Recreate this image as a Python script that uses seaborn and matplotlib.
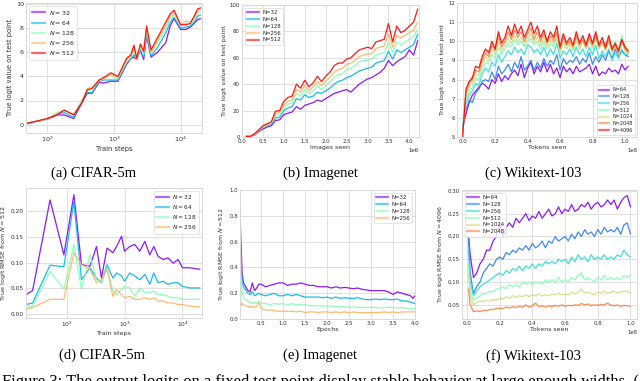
import numpy as np
import pandas as pd
import matplotlib
matplotlib.use("Agg")
import matplotlib.pyplot as plt
import seaborn as sns

# ---------------- data ----------------
# (a) CIFAR-5m logits
a_x = [50, 100, 140, 180, 250, 330, 400, 470, 600, 700, 900, 1150, 1550, 1800, 2000,
       2200, 2500, 2800, 3100, 3600, 4500, 6000, 7000, 8000, 10000, 12000, 14000, 16000, 18000, 20000]
a_labels = ["$N = 32$", "$N = 64$", "$N = 128$", "$N = 256$", "$N = 512$"]
a_n32 = [0.1, 0.45, 0.8, 0.8, 0.5, 1.8, 2.6, 2.6, 3.5, 3.45, 3.6, 3.6, 5.0, 5.5, 5.6, 5.4, 6.2, 5.4, 7.4, 5.6, 6.0, 6.8, 8.2, 8.8, 7.9, 7.9, 8.1, 8.4, 8.7, 8.8]
a_n64 = [0.1, 0.45, 0.9, 1.0, 0.6, 1.9, 2.7, 2.6, 3.6, 3.7, 3.7, 3.7, 5.1, 5.5, 5.8, 5.4, 6.3, 5.6, 7.5, 5.7, 6.4, 7.6, 8.5, 8.9, 8.0, 8.1, 8.2, 8.5, 9.0, 9.1]
a_n128 = [0.1, 0.45, 1.0, 1.2, 0.9, 2.0, 2.8, 2.9, 3.7, 3.8, 4.1, 3.8, 5.2, 5.6, 6.2, 5.4, 6.4, 5.8, 7.8, 5.9, 6.8, 7.9, 8.8, 9.1, 8.2, 8.4, 8.3, 8.7, 9.2, 9.4]
a_n256 = [0.1, 0.5, 0.9, 1.2, 0.8, 1.9, 3.0, 3.1, 3.6, 3.8, 4.2, 3.9, 5.4, 5.7, 6.4, 5.5, 6.6, 6.0, 8.0, 6.0, 7.0, 8.2, 9.0, 9.3, 8.3, 8.6, 8.5, 8.9, 9.4, 9.6]
a_n512 = [0.1, 0.5, 0.8, 1.2, 0.8, 1.8, 2.9, 3.0, 3.7, 3.9, 4.3, 4.0, 5.5, 5.8, 6.6, 5.5, 6.7, 6.1, 8.2, 6.2, 7.2, 8.5, 9.2, 9.5, 8.3, 8.3, 8.4, 9.0, 9.6, 9.7]

# (b) Imagenet logits (images seen, in millions)
b_x_m = [0.1, 0.2, 0.3, 0.4, 0.5, 0.6, 0.7, 0.8, 0.9, 1.0, 1.1, 1.2, 1.3, 1.4, 1.5, 1.6, 1.7, 1.8, 1.9, 2.0, 2.1,
         2.2, 2.3, 2.4, 2.5, 2.6, 2.7, 2.8, 2.9, 3.0, 3.1, 3.2, 3.3, 3.4, 3.5, 3.6, 3.7, 3.8, 3.9, 4.0, 4.1, 4.2]
b_labels = ["N=32", "N=64", "N=128", "N=256", "N=512"]
b_n32 = [0.5, 0.3, 1.5, 4, 6, 7.5, 8.5, 12.5, 13, 17, 18, 19, 23, 21, 24, 25, 26, 28, 27, 29, 31, 33, 34, 35, 36, 34, 37, 40, 42, 44, 45, 47, 49, 52, 58, 54, 57, 59, 61, 66, 62, 73]
b_n64 = [0.5, 0.3, 1.8, 4.5, 7, 8.5, 9.5, 14.5, 15, 20, 22, 23, 29, 28, 32, 30, 31, 34, 33, 35, 37, 40, 42, 43, 45, 46, 48, 50, 51, 52, 53, 56, 57, 58, 65, 59, 66, 64, 66, 68, 70, 78]
b_n128 = [0.5, 0.4, 2, 4.8, 7.5, 9, 10.5, 16.5, 17, 22, 25, 26, 33, 31, 36, 33, 35, 39, 36, 39, 42, 45, 47, 48, 51, 52, 54, 57, 58, 58, 59, 62, 63, 64, 72, 64, 72, 70, 72, 74, 76, 82]
b_n256 = [0.5, 0.4, 2.2, 5, 8, 9.5, 11, 18, 18.5, 24, 27, 28, 36, 34, 39, 35, 38, 42, 39, 42, 45, 49, 51, 52, 55, 56, 58, 61, 62, 63, 63, 67, 68, 69, 78, 68, 77, 75, 77, 79, 81, 87]
b_n512 = [0.5, 0.5, 2.5, 5.5, 8.5, 10, 11.5, 19.5, 20, 27, 30, 31, 40, 37, 43, 38, 41, 46, 42, 46, 49, 54, 56, 56, 59, 60, 63, 66, 67, 68, 67, 72, 73, 74, 86, 72, 84, 79, 81, 84, 87, 97]

# (c) Wikitext-103 logits (tokens seen, in 1e8)
c_x_e8 = [0.00, 0.02, 0.04, 0.06, 0.08, 0.10, 0.12, 0.14, 0.16, 0.18, 0.20, 0.22, 0.24, 0.26, 0.28, 0.30, 0.32,
          0.34, 0.36, 0.38, 0.40, 0.42, 0.44, 0.46, 0.48, 0.50, 0.52, 0.54, 0.56, 0.58, 0.60, 0.62, 0.64, 0.66,
          0.68, 0.70, 0.72, 0.74, 0.76, 0.78, 0.80, 0.82, 0.84, 0.86, 0.88, 0.90, 0.92, 0.94, 0.96, 0.98, 1.00, 1.02]
c_labels = ["N=64", "N=128", "N=256", "N=512", "N=1024", "N=2048", "N=4096"]
c_n64 = [5.5, 6.2, 6.8, 7.2, 7.4, 7.6, 7.8, 7.7, 7.5, 8.0, 7.8, 8.3, 7.9, 8.2, 8.0, 8.3, 8.5, 8.2, 8.8, 8.1, 8.6, 8.9, 8.3, 8.7, 8.4, 8.9, 8.4, 8.8, 8.3, 8.6, 8.1, 8.7, 8.4, 8.6, 8.3, 8.7, 8.4, 8.5, 8.6, 8.8, 8.3, 8.7, 8.2, 8.4, 8.3, 8.6, 8.4, 8.5, 8.3, 8.8, 8.5, 8.7]
c_n128 = [5.6, 6.4, 6.9, 6.8, 7.3, 7.5, 7.9, 8.0, 7.9, 8.4, 8.0, 8.7, 8.3, 8.5, 8.8, 8.4, 8.9, 8.6, 9.2, 8.5, 8.7, 9.0, 8.5, 8.9, 8.6, 9.1, 8.7, 9.0, 8.8, 9.3, 8.5, 9.1, 8.8, 9.0, 8.9, 9.2, 8.8, 9.1, 8.9, 9.4, 8.8, 9.2, 8.9, 9.3, 9.0, 9.5, 9.1, 9.6, 9.2, 9.5, 9.3, 9.2]
c_n256 = [5.5, 6.7, 7.2, 7.4, 7.8, 7.7, 8.3, 8.6, 8.4, 8.9, 8.7, 9.3, 8.9, 9.2, 9.5, 9.3, 9.7, 9.4, 9.6, 9.3, 9.8, 9.7, 9.4, 9.6, 9.3, 9.7, 9.2, 9.6, 9.3, 9.9, 9.1, 9.5, 9.3, 9.6, 9.2, 9.7, 9.3, 9.6, 9.2, 9.7, 9.3, 9.8, 9.1, 9.5, 9.2, 9.6, 9.0, 9.4, 9.1, 9.6, 9.3, 9.3]
c_n512 = [5.4, 6.9, 7.4, 7.6, 8.1, 8.0, 8.6, 8.9, 8.8, 9.3, 9.1, 9.7, 9.3, 9.6, 9.9, 9.7, 10.1, 9.8, 10.0, 9.7, 10.0, 10.2, 9.8, 10.0, 9.6, 10.0, 9.6, 9.9, 9.7, 10.1, 9.4, 9.9, 9.6, 9.9, 9.5, 10.0, 9.6, 10.1, 9.7, 10.2, 9.6, 10.1, 9.7, 10.0, 9.6, 10.1, 9.7, 10.0, 9.6, 10.3, 9.8, 9.6]
c_n1024 = [5.3, 7.1, 7.6, 7.8, 8.3, 8.2, 8.8, 9.2, 9.0, 9.6, 9.3, 10.0, 9.5, 9.8, 10.2, 9.9, 10.3, 10.0, 10.2, 9.8, 10.2, 10.4, 9.9, 10.2, 9.8, 10.2, 9.7, 10.1, 9.8, 10.3, 9.4, 10.0, 9.6, 9.9, 9.5, 10.1, 9.6, 10.0, 9.6, 10.1, 9.7, 10.2, 9.6, 9.9, 9.5, 10.0, 9.4, 9.8, 9.3, 10.1, 9.5, 9.3]
c_n2048 = [5.2, 7.3, 7.8, 8.0, 8.5, 8.4, 9.0, 9.4, 9.2, 9.8, 9.5, 10.3, 9.7, 10.0, 10.5, 10.1, 10.6, 10.2, 10.5, 10.0, 10.4, 10.7, 10.1, 10.5, 10.0, 10.4, 9.9, 10.3, 10.0, 10.5, 9.6, 10.2, 9.8, 10.0, 9.7, 10.3, 9.8, 10.1, 9.7, 10.2, 9.8, 10.3, 9.7, 10.0, 9.6, 10.1, 9.5, 9.8, 9.4, 10.0, 9.6, 9.4]
c_n4096 = [5.0, 7.5, 7.9, 8.1, 8.7, 8.6, 9.2, 9.6, 9.4, 10.0, 9.6, 10.5, 9.9, 10.2, 10.8, 10.3, 10.9, 10.4, 10.8, 10.2, 10.6, 11.0, 10.4, 10.8, 10.2, 10.6, 10.0, 10.5, 10.2, 10.8, 9.7, 10.4, 9.9, 10.2, 9.8, 10.5, 9.9, 10.3, 9.8, 10.4, 9.9, 10.5, 9.8, 10.2, 9.7, 10.3, 9.6, 9.9, 9.5, 10.1, 9.7, 9.5]

# (d) CIFAR-5m RMSE from N=512
d_x = [20, 26, 52, 90, 134, 181, 253, 329, 400, 500, 630, 730, 890, 1000, 1230, 1500, 1835, 2240, 2730,
       3200, 3800, 4640, 5630, 6900, 8400, 10000, 13400, 17400, 20000]
d_labels = ["$N = 32$", "$N = 64$", "$N = 128$", "$N = 256$"]
d_n32 = [0.038, 0.046, 0.221, 0.115, 0.231, 0.096, 0.093, 0.131, 0.070, 0.128, 0.119, 0.131, 0.151, 0.122, 0.131, 0.135, 0.122, 0.141, 0.115, 0.131, 0.112, 0.106, 0.109, 0.099, 0.106, 0.090, 0.090, 0.088, 0.087]
d_n64 = [0.019, 0.022, 0.095, 0.092, 0.218, 0.067, 0.090, 0.070, 0.061, 0.096, 0.070, 0.080, 0.074, 0.064, 0.080, 0.074, 0.067, 0.077, 0.058, 0.080, 0.061, 0.064, 0.058, 0.061, 0.061, 0.054, 0.051, 0.051, 0.051]
d_n128 = [0.013, 0.016, 0.083, 0.048, 0.135, 0.048, 0.115, 0.067, 0.061, 0.090, 0.045, 0.038, 0.048, 0.054, 0.051, 0.035, 0.051, 0.042, 0.042, 0.045, 0.038, 0.038, 0.035, 0.032, 0.032, 0.029, 0.029, 0.029, 0.029]
d_n256 = [0.010, 0.013, 0.029, 0.029, 0.119, 0.096, 0.087, 0.061, 0.067, 0.087, 0.035, 0.048, 0.038, 0.032, 0.035, 0.029, 0.029, 0.032, 0.029, 0.032, 0.026, 0.026, 0.022, 0.022, 0.019, 0.019, 0.016, 0.015, 0.014]

# (e) Imagenet RMSE from N=512
e_x = [0.02, 0.04, 0.07, 0.1, 0.15, 0.2, 0.25, 0.3, 0.35, 0.4, 0.45, 0.5, 0.6, 0.7, 0.8, 0.9, 1.0, 1.1, 1.2, 1.3,
       1.4, 1.5, 1.6, 1.7, 1.8, 1.9, 2.0, 2.1, 2.2, 2.3, 2.4, 2.5, 2.6, 2.7, 2.8, 2.9, 3.0, 3.1, 3.2, 3.3, 3.4,
       3.5, 3.6, 3.7, 3.8, 3.9, 3.95, 4.0]
e_labels = ["N=32", "N=64", "N=128", "N=256"]
e_n32 = [0.85, 0.6, 0.35, 0.28, 0.25, 0.22, 0.21, 0.28, 0.22, 0.24, 0.27, 0.27, 0.25, 0.26, 0.27, 0.28, 0.28, 0.26, 0.27, 0.27, 0.28, 0.27, 0.26, 0.26, 0.25, 0.25, 0.25, 0.24, 0.25, 0.24, 0.245, 0.24, 0.235, 0.24, 0.23, 0.225, 0.22, 0.22, 0.22, 0.22, 0.21, 0.19, 0.21, 0.2, 0.19, 0.18, 0.16, 0.18]
e_n64 = [0.82, 0.5, 0.28, 0.25, 0.22, 0.2, 0.19, 0.21, 0.18, 0.19, 0.2, 0.19, 0.18, 0.19, 0.2, 0.18, 0.18, 0.19, 0.18, 0.19, 0.18, 0.17, 0.17, 0.17, 0.17, 0.165, 0.17, 0.16, 0.17, 0.16, 0.165, 0.16, 0.16, 0.165, 0.155, 0.15, 0.15, 0.155, 0.15, 0.155, 0.15, 0.15, 0.155, 0.14, 0.14, 0.13, 0.125, 0.12]
e_n128 = [0.72, 0.35, 0.2, 0.17, 0.15, 0.14, 0.13, 0.12, 0.13, 0.12, 0.14, 0.12, 0.12, 0.11, 0.12, 0.115, 0.12, 0.11, 0.12, 0.11, 0.115, 0.11, 0.105, 0.1, 0.105, 0.1, 0.1, 0.1, 0.095, 0.1, 0.095, 0.09, 0.095, 0.09, 0.09, 0.09, 0.09, 0.09, 0.085, 0.09, 0.09, 0.09, 0.085, 0.09, 0.085, 0.08, 0.08, 0.08]
e_n256 = [0.48, 0.1, 0.12, 0.11, 0.1, 0.1, 0.09, 0.1, 0.09, 0.1, 0.13, 0.08, 0.07, 0.07, 0.065, 0.06, 0.06, 0.06, 0.06, 0.055, 0.06, 0.05, 0.055, 0.055, 0.05, 0.055, 0.055, 0.05, 0.055, 0.05, 0.055, 0.05, 0.055, 0.05, 0.05, 0.05, 0.05, 0.05, 0.05, 0.055, 0.05, 0.055, 0.05, 0.055, 0.055, 0.055, 0.055, 0.055]

# (f) Wikitext-103 RMSE from N=4096 (tokens seen, in 1e8)
f_x_e8 = [0.01, 0.02, 0.04, 0.06, 0.08, 0.10, 0.12, 0.14, 0.16, 0.18, 0.20, 0.22, 0.24, 0.26, 0.28, 0.30, 0.32,
          0.34, 0.36, 0.38, 0.40, 0.42, 0.44, 0.46, 0.48, 0.50, 0.52, 0.54, 0.56, 0.58, 0.60, 0.62, 0.64, 0.66,
          0.68, 0.70, 0.72, 0.74, 0.76, 0.78, 0.80, 0.82, 0.84, 0.86, 0.88, 0.90, 0.92, 0.94, 0.96, 0.98, 1.00]
f_labels = ["N=64", "N=128", "N=256", "N=512", "N=1024", "N=2048"]
f_n64 = [0.2, 0.16, 0.11, 0.12, 0.14, 0.15, 0.17, 0.17, 0.19, 0.2, 0.23, 0.2, 0.22, 0.23, 0.22, 0.24, 0.23, 0.24, 0.25, 0.235, 0.245, 0.24, 0.255, 0.24, 0.25, 0.26, 0.245, 0.25, 0.265, 0.25, 0.26, 0.255, 0.27, 0.255, 0.26, 0.27, 0.265, 0.275, 0.26, 0.27, 0.275, 0.265, 0.27, 0.28, 0.27, 0.28, 0.26, 0.275, 0.285, 0.29, 0.265]
f_n128 = [0.2, 0.12, 0.075, 0.09, 0.1, 0.12, 0.13, 0.14, 0.135, 0.15, 0.155, 0.15, 0.165, 0.16, 0.17, 0.165, 0.175, 0.17, 0.18, 0.17, 0.185, 0.175, 0.18, 0.19, 0.175, 0.19, 0.185, 0.2, 0.19, 0.195, 0.2, 0.19, 0.205, 0.195, 0.21, 0.2, 0.215, 0.205, 0.21, 0.2, 0.215, 0.205, 0.22, 0.21, 0.215, 0.21, 0.22, 0.205, 0.225, 0.23, 0.205]
f_n256 = [0.17, 0.1, 0.07, 0.08, 0.09, 0.095, 0.1, 0.105, 0.11, 0.115, 0.12, 0.115, 0.125, 0.12, 0.13, 0.125, 0.135, 0.125, 0.135, 0.13, 0.14, 0.13, 0.14, 0.135, 0.145, 0.14, 0.145, 0.14, 0.15, 0.145, 0.15, 0.14, 0.155, 0.145, 0.16, 0.15, 0.155, 0.145, 0.16, 0.15, 0.155, 0.15, 0.16, 0.15, 0.155, 0.15, 0.16, 0.155, 0.17, 0.16, 0.155]
f_n512 = [0.14, 0.08, 0.06, 0.065, 0.07, 0.075, 0.075, 0.08, 0.078, 0.085, 0.085, 0.09, 0.085, 0.095, 0.09, 0.095, 0.09, 0.1, 0.095, 0.1, 0.095, 0.1, 0.1, 0.095, 0.105, 0.1, 0.105, 0.1, 0.11, 0.1, 0.105, 0.1, 0.11, 0.105, 0.115, 0.12, 0.105, 0.11, 0.105, 0.1, 0.11, 0.105, 0.115, 0.105, 0.11, 0.105, 0.11, 0.105, 0.115, 0.11, 0.115]
f_n1024 = [0.12, 0.07, 0.05, 0.055, 0.058, 0.057, 0.06, 0.058, 0.062, 0.06, 0.065, 0.062, 0.068, 0.064, 0.07, 0.066, 0.07, 0.068, 0.072, 0.068, 0.072, 0.07, 0.074, 0.07, 0.072, 0.07, 0.074, 0.072, 0.076, 0.072, 0.074, 0.072, 0.078, 0.074, 0.078, 0.085, 0.076, 0.078, 0.075, 0.072, 0.078, 0.076, 0.08, 0.075, 0.078, 0.08, 0.076, 0.078, 0.08, 0.08, 0.075]
f_n2048 = [0.085, 0.05, 0.035, 0.037, 0.035, 0.038, 0.037, 0.04, 0.039, 0.042, 0.043, 0.042, 0.045, 0.043, 0.046, 0.044, 0.047, 0.045, 0.05, 0.045, 0.048, 0.054, 0.046, 0.048, 0.045, 0.048, 0.046, 0.049, 0.047, 0.05, 0.047, 0.049, 0.048, 0.05, 0.049, 0.053, 0.05, 0.052, 0.048, 0.05, 0.049, 0.051, 0.05, 0.054, 0.049, 0.048, 0.05, 0.047, 0.049, 0.048, 0.047]

captions = ["(a) CIFAR-5m", "(b) Imagenet", "(c) Wikitext-103",
            "(d) CIFAR-5m", "(e) Imagenet", "(f) Wikitext-103"]
fig_caption = "Figure 3: The output logits on a fixed test point display stable behavior at large enough widths. (a)"

# ---------------- style ----------------
sns.set_theme(style="whitegrid")
plt.rcParams["font.family"] = ["DejaVu Sans"]
plt.rcParams["axes.edgecolor"] = "0.85"
plt.rcParams["grid.color"] = "0.88"
plt.rcParams["grid.linewidth"] = 0.7
plt.rcParams["axes.linewidth"] = 0.7

W, H = 640, 381
fig = plt.figure(figsize=(W / 100, H / 100), dpi=100)


def rect(x0, y0, x1, y1):
    return [x0 / W, 1 - y1 / H, (x1 - x0) / W, (y1 - y0) / H]


pal5 = [tuple(c) for c in plt.cm.rainbow(np.linspace(0, 1, 5))]
pal7 = [tuple(c) for c in plt.cm.rainbow(np.linspace(0, 1, 7))]


def panel(ax, x, ys, labels, colors, tick_fs, lab_fs, leg_fs, leg_loc):
    df = pd.DataFrame({
        "x": np.tile(np.asarray(x, dtype=float), len(ys)),
        "y": np.concatenate([np.asarray(y, dtype=float) for y in ys]),
        "N": np.repeat(labels, len(x)),
    })
    sns.lineplot(data=df, x="x", y="y", hue="N", hue_order=labels, palette=colors,
                 estimator=None, sort=False, linewidth=0.9, alpha=0.9, ax=ax)
    ax.tick_params(axis="both", labelsize=tick_fs, pad=1.5, length=0, colors="0.2")
    ax.xaxis.get_offset_text().set_fontsize(tick_fs)
    leg = ax.legend(loc=leg_loc, fontsize=leg_fs, frameon=True, handlelength=2.2,
                    borderpad=0.4, labelspacing=0.35, handletextpad=0.6, borderaxespad=0.5)
    leg.get_frame().set_edgecolor("0.85")
    leg.get_frame().set_linewidth(0.6)
    for ln in leg.get_lines():
        ln.set_linewidth(1.6)
        ln.set_alpha(0.6)
    return ax


# (a)
ax = fig.add_axes(rect(26, 3, 202, 133))
panel(ax, a_x, [a_n32, a_n64, a_n128, a_n256, a_n512], a_labels, pal5, 4.6, 4.7, 4.5, "upper left")
ax.set_xscale("log")
ax.set_xlim(48, 21000)
ax.set_ylim(-0.7, 10.1)
ax.set_yticks([0, 2, 4, 6, 8, 10])
ax.set_xlabel("Train steps", fontsize=4.9, labelpad=1.5, color="0.2")
ax.set_ylabel("True logit value on test point", fontsize=4.9, labelpad=2, color="0.2")

# (b)
ax = fig.add_axes(rect(242, 5, 419, 137))
panel(ax, [v * 1e6 for v in b_x_m], [b_n32, b_n64, b_n128, b_n256, b_n512], b_labels, pal5, 3.9, 4.4, 3.9, "upper left")
ax.set_xlim(0, 4.23e6)
ax.set_ylim(0, 100)
ax.set_xticks(np.arange(0, 4.01e6, 0.5e6))
ax.set_yticks([0, 20, 40, 60, 80, 100])
ax.set_xlabel("Images seen", fontsize=4.5, labelpad=1.0, color="0.2")
ax.set_ylabel("True logit value on test point", fontsize=4.5, labelpad=2, color="0.2")

# (c)
ax = fig.add_axes(rect(457, 3, 637, 137))
panel(ax, [v * 1e8 for v in c_x_e8], [c_n64, c_n128, c_n256, c_n512, c_n1024, c_n2048, c_n4096],
      c_labels, pal7, 3.9, 4.4, 3.5, "lower right")
ax.set_xlim(-0.035e8, 1.074e8)
ax.set_ylim(5, 12)
ax.set_xticks(np.arange(0, 1.01e8, 0.2e8))
ax.set_xlabel("Tokens seen", fontsize=4.5, labelpad=1.0, color="0.2")
ax.set_ylabel("True logit value on test point", fontsize=4.5, labelpad=2, color="0.2")

# (d)
ax = fig.add_axes(rect(26, 188, 202, 318))
panel(ax, d_x, [d_n32, d_n64, d_n128, d_n256], d_labels, pal5[:4], 4.2, 4.6, 4.2, "upper right")
ax.set_xscale("log")
ax.set_xlim(20, 21700)
ax.set_ylim(-0.007, 0.244)
ax.set_yticks([0.0, 0.05, 0.10, 0.15, 0.20])
ax.yaxis.set_major_formatter(matplotlib.ticker.FormatStrFormatter("%.2f"))
ax.set_xlabel("Train steps", fontsize=4.6, labelpad=1.5, color="0.2")
ax.set_ylabel("True logit RMSE from $N = 512$", fontsize=4.6, labelpad=2, color="0.2")

# (e)
ax = fig.add_axes(rect(240, 190, 415, 319))
panel(ax, e_x, [e_n32, e_n64, e_n128, e_n256], e_labels, pal5[:4], 3.9, 4.4, 3.9, "upper right")
ax.set_xlim(0.02, 4.0)
ax.set_ylim(0, 1.0)
ax.set_xticks(np.arange(0.5, 4.01, 0.5))
ax.set_yticks([0.0, 0.2, 0.4, 0.6, 0.8, 1.0])
ax.set_xlabel("Epochs", fontsize=4.5, labelpad=1.0, color="0.2")
ax.set_ylabel("True logit RMSE from $N = 512$", fontsize=4.5, labelpad=2, color="0.2")

# (f)
ax = fig.add_axes(rect(462, 190, 637, 319))
panel(ax, [v * 1e8 for v in f_x_e8], [f_n64, f_n128, f_n256, f_n512, f_n1024, f_n2048],
      f_labels, pal7[:6], 3.9, 4.4, 3.9, "upper left")
ax.set_xlim(-0.03e8, 1.04e8)
ax.set_ylim(0.019, 0.302)
ax.set_xticks(np.arange(0, 1.01e8, 0.2e8))
ax.set_yticks([0.05, 0.10, 0.15, 0.20, 0.25, 0.30])
ax.yaxis.set_major_formatter(matplotlib.ticker.FormatStrFormatter("%.2f"))
ax.set_xlabel("Tokens seen", fontsize=4.5, labelpad=1.0, color="0.2")
ax.set_ylabel("True logit RMSE from $N = 4096$", fontsize=4.5, labelpad=2, color="0.2")

# captions
cap_pos = [(94, 173), (320, 173), (533, 173), (102, 355), (320, 355), (534, 356)]
for txt, (cx, cy) in zip(captions, cap_pos):
    fig.text(cx / W, 1 - cy / H, txt, ha="center", va="center",
             fontsize=10.5, family="Liberation Serif", color="black")
# figure caption: only its top part is visible at the bottom edge, as in the reference
fig.text(2 / W, 1 - 386 / H, fig_caption, ha="left", va="baseline",
         fontsize=11.9, family="Liberation Serif", color="black")

fig.savefig("out.png", dpi=100)
